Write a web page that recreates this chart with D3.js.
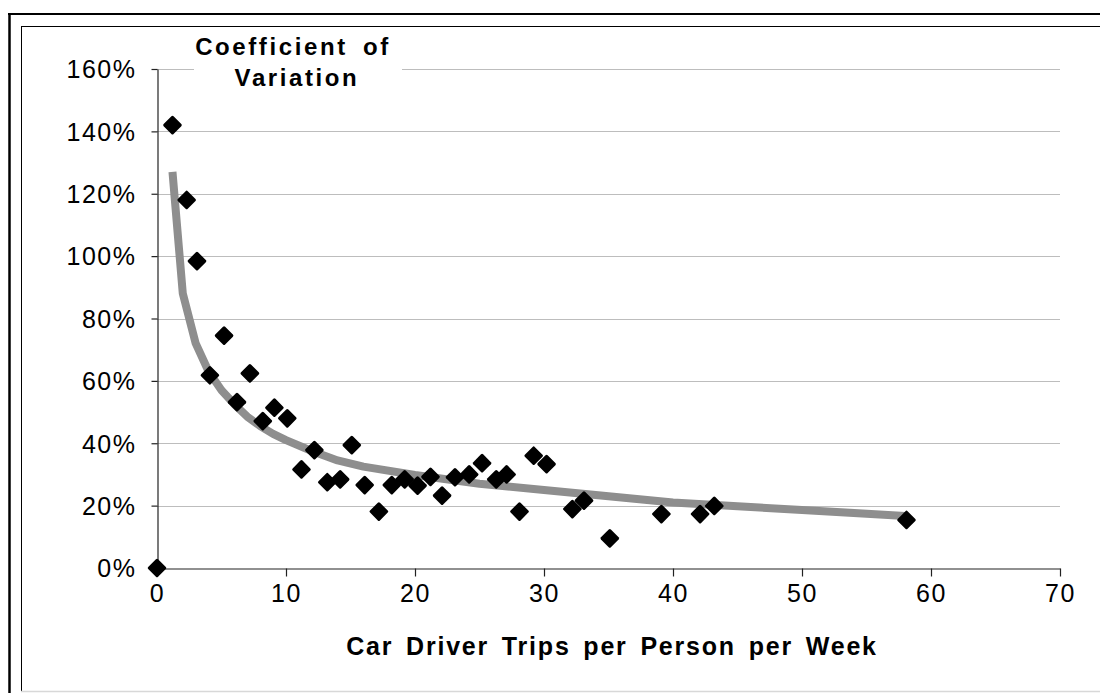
<!DOCTYPE html>
<html>
<head>
<meta charset="utf-8">
<script src="https://cdn.jsdelivr.net/npm/d3@7"></script>
<style>
  body { margin: 0; background: #fff; }
  text { font-family: Arial, "Liberation Sans", sans-serif; fill: #000; }
</style>
</head>
<body>
<div id="chart"></div>
<script>
// data
const trips = [0, 1.2, 2.3, 3.1, 4.1, 5.2, 6.2, 7.2, 8.2, 9.1, 10.1, 11.2, 12.2, 13.2, 14.2, 15.1, 16.1, 17.2, 18.2, 19.2, 20.2, 21.2, 22.1, 23.1, 24.2, 25.2, 26.3, 27.1, 28.1, 29.2, 30.2, 32.2, 33.1, 35.1, 39.1, 42.1, 43.2, 58.1];
const cov = [0, 142, 118, 98.4, 61.8, 74.5, 53.2, 62.4, 47.1, 51.4, 48.0, 31.6, 37.8, 27.5, 28.4, 39.4, 26.6, 18.1, 26.6, 28.4, 26.4, 29.2, 23.2, 29.1, 30.0, 33.6, 28.4, 30.0, 18.1, 36.0, 33.3, 18.9, 21.6, 9.5, 17.3, 17.3, 19.9, 15.4];

// trend line (power fit) as drawn
const trendX = [1.2, 2, 3, 4, 5, 6, 7, 8, 9, 10, 12, 14, 16, 20, 25, 30, 35, 40, 45, 50, 58];
const trendY = [127, 88, 72, 63, 57, 52.5, 48.5, 45.5, 43, 41, 37.5, 34.5, 32.5, 29.8, 27, 25, 23, 21, 19.8, 18.6, 16.7];

const xTicks = [0, 10, 20, 30, 40, 50, 60, 70];
const yTicks = [0, 20, 40, 60, 80, 100, 120, 140, 160];

const W = 1100, H = 693;

const svg = d3.select("#chart")
  .append("svg")
  .attr("width", W)
  .attr("height", H);

// frame
svg.append("rect").attr("width", W).attr("height", H).attr("fill", "#fff");
svg.append("line").attr("x1", 9.5).attr("x2", 9.5).attr("y1", 13).attr("y2", H)
  .attr("stroke", "#000").attr("stroke-width", 2.5);
svg.append("line").attr("x1", 8).attr("x2", W).attr("y1", 14).attr("y2", 14)
  .attr("stroke", "#000").attr("stroke-width", 2);
svg.append("line").attr("x1", 21).attr("x2", W).attr("y1", 26.5).attr("y2", 26.5)
  .attr("stroke", "#000").attr("stroke-width", 1);
svg.append("line").attr("x1", 21.5).attr("x2", 21.5).attr("y1", 26).attr("y2", 691)
  .attr("stroke", "#000").attr("stroke-width", 1);
svg.append("line").attr("x1", 21).attr("x2", W).attr("y1", 691.5).attr("y2", 691.5)
  .attr("stroke", "#d8d8d8").attr("stroke-width", 1.5);

// scales
const x = d3.scaleLinear().domain([0, 70]).range([157, 1060]);
const y = d3.scaleLinear().domain([0, 160]).range([568, 69]);

// grid
svg.append("g")
  .selectAll("line")
  .data(yTicks.filter(d => d > 0))
  .join("line")
  .attr("x1", x(0)).attr("x2", x(70))
  .attr("y1", d => Math.round(y(d)) + 0.5)
  .attr("y2", d => Math.round(y(d)) + 0.5)
  .attr("stroke", "#bdbdbd")
  .attr("stroke-width", 1.2);

// axes
const xAxis = svg.append("g")
  .attr("transform", `translate(0,${Math.round(y(0)) + 0.5})`)
  .call(d3.axisBottom(x).tickValues(xTicks).tickSize(8).tickPadding(8).tickSizeOuter(0));
const yAxis = svg.append("g")
  .attr("transform", `translate(${Math.round(x(0)) + 0.5},0)`)
  .call(d3.axisLeft(y).tickValues(yTicks).tickSize(6).tickPadding(15).tickSizeOuter(0)
    .tickFormat(d => d + "%"));

[xAxis, yAxis].forEach(g => {
  g.select(".domain").attr("stroke", "#222").attr("stroke-width", 1.2);
  g.selectAll(".tick line").attr("stroke", "#222").attr("stroke-width", 1.2);
  g.selectAll(".tick text")
    .attr("font-family", "Arial, 'Liberation Sans', sans-serif")
    .attr("font-size", 25)
    .attr("letter-spacing", 1.5)
    .attr("fill", "#000");
});
xAxis.selectAll(".tick text").attr("dy", "0.71em");
yAxis.selectAll(".tick text").attr("dy", "0.35em");

// title box over the top gridline
svg.append("rect")
  .attr("x", 194).attr("y", 32).attr("width", 208).attr("height", 62)
  .attr("fill", "#fff");

const title = svg.append("g")
  .attr("font-weight", "bold")
  .attr("font-size", 24)
  .attr("letter-spacing", 2.6)
  .attr("text-anchor", "middle");
title.append("text").attr("x", 293).attr("y", 55)
  .attr("word-spacing", 6)
  .text("Coefficient of");
title.append("text").attr("x", 297).attr("y", 86)
  .text("Variation");

svg.append("text")
  .attr("x", 612).attr("y", 655)
  .attr("text-anchor", "middle")
  .attr("font-weight", "bold")
  .attr("font-size", 25)
  .attr("letter-spacing", 1.8)
  .attr("word-spacing", 4)
  .text("Car Driver Trips per Person per Week");

// trend line
const line = d3.line()
  .x((d, i) => x(trendX[i]))
  .y(d => y(d));

svg.append("path")
  .attr("d", line(trendY))
  .attr("fill", "none")
  .attr("stroke", "#8e8e8e")
  .attr("stroke-width", 8)
  .attr("stroke-linejoin", "round");

// diamond markers
svg.append("g")
  .selectAll("rect")
  .data(trips)
  .join("rect")
  .attr("x", -7).attr("y", -7)
  .attr("width", 14).attr("height", 14)
  .attr("rx", 1.5)
  .attr("transform", (d, i) => `translate(${x(d)},${y(cov[i])}) rotate(45)`)
  .attr("fill", "#000");
</script>
</body>
</html>
